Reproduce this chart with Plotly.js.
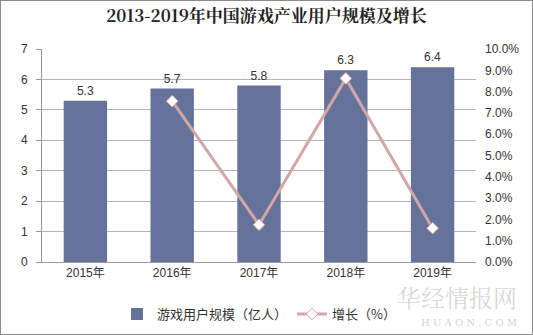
<!DOCTYPE html>
<html><head><meta charset="utf-8">
<script src="https://cdn.plot.ly/plotly-3.0.1.min.js"></script>
<style>
html,body{margin:0;padding:0;background:#fff;}
#frame{position:absolute;left:0;top:0;width:531px;height:333px;border:1px solid #8c8c8c;}
#chart{width:531px;height:333px;}
</style></head>
<body><div id="frame"><div id="chart"></div></div>
<script>
const categories = ['2015年','2016年','2017年','2018年','2019年'];
const users = [5.3, 5.7, 5.8, 6.3, 6.4];
const growthCats = ['2016年','2017年','2018年','2019年'];
const growth = [0.0755, 0.0175, 0.0862, 0.0159];
const userLabels = ['5.3','5.7','5.8','6.3','6.4'];

const bars = {
  type:'bar', x:categories, y:users, name:'游戏用户规模（亿人）',
  marker:{color:'#65729a'}, width:0.5,
  text:userLabels, textposition:'outside', cliponaxis:false,
  textfont:{family:'Arial, Liberation Sans, sans-serif', size:12, color:'#333'},
  hoverinfo:'none'
};
const line = {
  type:'scatter', mode:'lines+markers', x:growthCats, y:growth, yaxis:'y2',
  name:'增长（%）',
  line:{color:'#d4a6a8', width:3},
  marker:{symbol:'diamond', size:9, color:'#ffffff', line:{color:'#d4a6a8', width:1}},
  hoverinfo:'none'
};
const layout = {
  width:531, height:333,
  margin:{l:41, r:56, t:48, b:72},
  paper_bgcolor:'#fff', plot_bgcolor:'#fff',
  title:{text:'<b>2013-2019年中国游戏产业用户规模及增长</b>', x:0.5, xanchor:'center', y:0.955, yanchor:'middle',
    font:{family:'Noto Serif CJK SC, Liberation Serif, serif', size:17, color:'#222'}},
  font:{family:'Arial, Liberation Sans, Noto Sans CJK SC, sans-serif', size:12, color:'#333'},
  xaxis:{type:'category', showline:true, linecolor:'#999', linewidth:1, ticks:'', showgrid:false,
    tickfont:{size:12, color:'#333'}, fixedrange:true, automargin:false},
  yaxis:{range:[0,7], dtick:1, showgrid:true, gridcolor:'#b5b5b5', gridwidth:1, showline:true,
    linecolor:'#999', ticks:'outside', ticklen:5, tickcolor:'#999', zeroline:false,
    tickfont:{size:12, color:'#333'}, ticklabelstandoff:6, automargin:false},
  yaxis2:{overlaying:'y', side:'right', range:[0,0.1], dtick:0.01, tickformat:'.1%',
    showgrid:false, zeroline:false, showline:false, ticks:'', tickfont:{size:12, color:'#333'}, ticklabelstandoff:8, automargin:false},
  legend:{orientation:'h', x:0.5, xanchor:'center', xref:'paper', y:0.105, yref:'container', yanchor:'top',
    font:{size:13, color:'#333', family:'Noto Sans CJK SC, sans-serif'}, itemwidth:30},
  showlegend:true,
  annotations:[
    {xref:'paper', yref:'paper', x:1.099, y:-0.16, xanchor:'right', yanchor:'middle', showarrow:false,
     text:'华经情报网', font:{family:'Noto Serif CJK SC, Noto Sans CJK SC, serif', size:24, color:'rgba(170,170,170,0.45)'}},
    {xref:'paper', yref:'paper', x:1.099, y:-0.286, xanchor:'right', yanchor:'middle', showarrow:false,
     text:'H U A O N . C O M', font:{family:'DejaVu Serif, serif', size:10, color:'rgba(170,170,170,0.55)'}}
  ]
};
Plotly.newPlot('chart', [bars, line], layout, {displayModeBar:false, staticPlot:true});
</script></body></html>
